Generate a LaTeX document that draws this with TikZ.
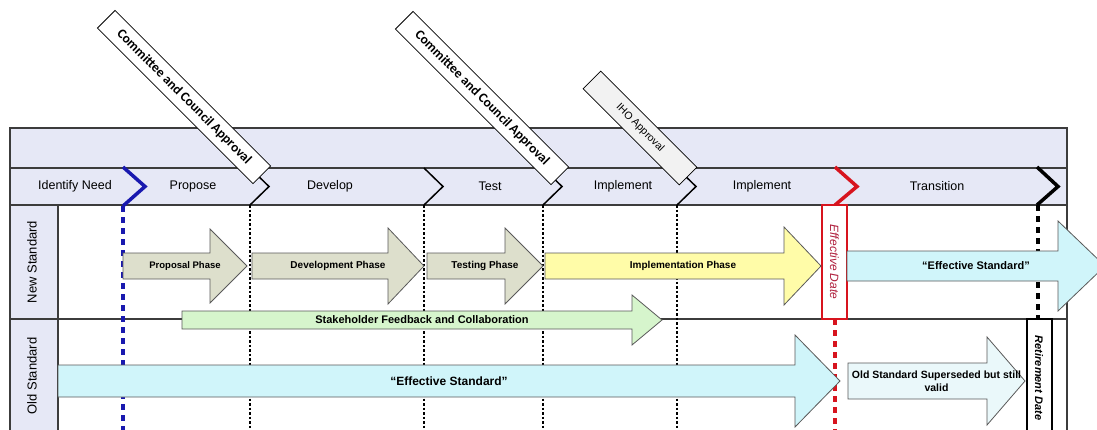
\documentclass[tikz,border=0pt]{standalone}
\usepackage{fontspec}
\setmainfont{Liberation Sans}
\newfontfamily\approvalfont{Carlito}
\usepackage{xcolor}
\usepackage{tikz}
\usetikzlibrary{positioning}

\definecolor{headbg}{RGB}{230,232,246}
\definecolor{phasefill}{RGB}{221,223,204}
\definecolor{implfill}{RGB}{255,252,168}
\definecolor{effill}{RGB}{208,245,250}
\definecolor{feedfill}{RGB}{214,245,204}
\definecolor{oldfill}{RGB}{234,248,250}
\definecolor{markblue}{RGB}{25,25,175}
\definecolor{markred}{RGB}{215,20,30}
\definecolor{datered}{RGB}{175,30,60}
\definecolor{framegray}{RGB}{60,60,60}

\newcommand{\fs}[1]{\fontsize{#1}{#1}\selectfont}

% x0, head base, tip, y centre, half body, half head, fill, name, text
\newcommand{\phasearrow}[9]{%
  \draw[arrowline, fill=#7] (#1,#4-#5) -- (#2,#4-#5) -- (#2,#4-#6) -- (#3,#4)
    -- (#2,#4+#6) -- (#2,#4+#5) -- (#1,#4+#5) -- cycle;
  \node[arrowlabel] (#8) at ({(#1+#3)/2},#4) {#9};}

\begin{document}
\begin{tikzpicture}[
    x=1pt, y=-1pt,
    frameline/.style={draw=framegray, line width=1.2pt},
    arrowline/.style={draw=black!65, line width=0.8pt},
    arrowlabel/.style={font=\bfseries\fs{9.5}, align=center, inner sep=1pt},
    phaselabel/.style={font=\fs{12.5}, inner sep=1pt},
    lanelabel/.style={font=\fs{13}, rotate=90, inner sep=1pt},
    thinmark/.style={draw=black, line width=1.5pt},
    thinlane/.style={draw=black, line width=1.5pt, dash pattern=on 2.5pt off 2pt},
    thickdash/.style={line width=4pt, dash pattern=on 6pt off 5pt},
    datebox/.style={line width=2pt, fill=white, minimum width=25pt, inner sep=0pt},
    approval/.style={draw=black, fill=white, line width=0.8pt, rotate=-45, minimum height=25pt,
        inner sep=2pt, font=\approvalfont\bfseries\fs{13.5}}
]
\useasboundingbox (0,0) rectangle (1097,429);
\clip (0,0) rectangle (1097,429);

% Frame and lanes
\fill[headbg] (10,128) rectangle (1067,205);
\fill[headbg] (10,205) rectangle (58,445);
\draw[frameline] (10,128) rectangle (1067,445);
\draw[frameline] (10,168) -- (1067,168);
\draw[frameline] (10,205) -- (1067,205);
\draw[frameline] (10,319) -- (1067,319);
\draw[frameline] (58,205) -- (58,445);

% Milestone markers
\draw[markblue, line width=3.5pt] (123,167) -- (145,186.5) -- (123,206);
\draw[markblue, thickdash] (123,206) -- (123,440);
\foreach \mx in {250,424,543,677} {
  \draw[thinmark] (\mx,168) -- (\mx+19,186.5) -- (\mx,205);
  \draw[thinlane] (\mx,205) -- (\mx,440);
}
\draw[markred, line width=3.5pt] (835,167) -- (857,186.5) -- (835,205);
\draw[markred, thickdash] (835,319) -- (835,440);
\draw[black, line width=3.5pt] (1037,167) -- (1058,186.5) -- (1037,205);
\draw[black, thickdash] (1038,205) -- (1038,319);

% Date boxes
\node[datebox, draw=markred, minimum height=114pt] (effdate) at (834.5,262) {};
\node[font=\itshape\fs{12}, text=datered, rotate=-90] (efftext) at (effdate.center) {Effective Date};
\node[datebox, draw=black, minimum height=125pt] (retdate) at (1039,381.5) {};
\node[font=\bfseries\itshape\fs{11}, rotate=-90] (rettext) at (1039,378) {Retirement Date};

% Phase arrows
\phasearrow{123}{210}{247}{266}{13}{37}{phasefill}{propphase}{Proposal Phase}
\phasearrow{252}{388}{424}{266}{13}{38}{phasefill}{devphase}{\fs{10}Development Phase}
\phasearrow{427}{505}{543}{266}{13}{38}{phasefill}{testphase}{\fs{10}Testing Phase}
\phasearrow{545}{784}{821}{266}{13}{39}{implfill}{implphase}{\fs{10}Implementation Phase}
\phasearrow{847}{1058}{1105}{266}{15}{45}{effill}{neweff}{\fs{11}``Effective Standard''}
\phasearrow{182}{632}{662}{320}{9}{25}{feedfill}{feedback}{\fs{11}Stakeholder Feedback and Collaboration}
\phasearrow{58}{795}{840}{381}{16}{46}{effill}{oldeff}{\fs{12}``Effective Standard''}
\phasearrow{848}{987}{1025}{381}{18}{44}{oldfill}{superseded}{\fs{10.5}Old Standard Superseded but still\\[2pt]\fs{10.5}valid}

% Header labels
\foreach \hx/\htext/\hname in {75/Identify Need/idneed, 193/Propose/propose, 330/Develop/develop,
    490/Test/test, 623/Implement/implA, 762/Implement/implB, 937/Transition/transition}
  \node[phaselabel] (\hname) at (\hx,186.5) {\htext};

% Lane labels
\node[lanelabel] (newstd) at (32,262) {New Standard};
\node[lanelabel] (oldstd) at (32,376) {Old Standard};

% Approvals
\node[approval, minimum width=220pt] (approvalA) at (184,97) {Committee and Council Approval};
\node[approval, minimum width=220pt] (approvalB) at (482,98) {Committee and Council Approval};
\node[approval, minimum width=136pt, fill=black!5, font=\fs{10.5}] (ihoappr) at (640,128) {IHO Approval};

\end{tikzpicture}
\end{document}
